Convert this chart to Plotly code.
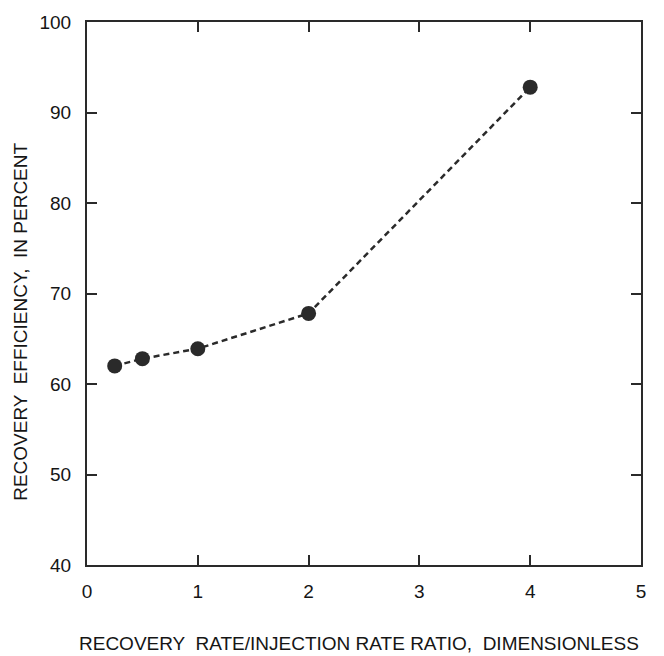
import plotly.graph_objects as go

# Recovery efficiency vs. recovery/injection rate ratio
rate_ratio = [0.25, 0.5, 1, 2, 4]
recovery_pct = [62.0, 62.8, 63.9, 67.8, 92.8]

x_ticks = [0, 1, 2, 3, 4, 5]
y_ticks = [40, 50, 60, 70, 80, 90, 100]

x_title = "RECOVERY  RATE/INJECTION RATE RATIO,  DIMENSIONLESS"
y_title = "RECOVERY  EFFICIENCY,  IN PERCENT"

ink = "#2a2a2a"
text_ink = "#151515"
font = "Liberation Sans, Arial, sans-serif"

fig = go.Figure()
fig.add_trace(go.Scatter(
    x=rate_ratio, y=recovery_pct,
    mode="lines+markers",
    line=dict(color=ink, width=2.5, dash="6px,4px"),
    marker=dict(color=ink, size=15),
    showlegend=False,
))

axis_common = dict(
    showgrid=False, zeroline=False, showline=True, mirror="ticks",
    linecolor=ink, linewidth=2, ticks="inside", ticklen=10, tickwidth=2,
    tickcolor=ink, tickfont=dict(family=font, size=19, color=text_ink),
)

fig.update_xaxes(
    range=[0, 5], tickvals=x_ticks, ticktext=[str(v) for v in x_ticks],
    ticklabelstandoff=8, **axis_common,
)
fig.update_yaxes(
    range=[40, 100], tickvals=y_ticks, ticktext=[str(v) for v in y_ticks],
    ticklabelstandoff=10, **axis_common,
)

# Axis titles placed as annotations
fig.add_annotation(
    text=x_title, xref="paper", yref="paper", x=0.491, y=-0.145,
    showarrow=False, xanchor="center", yanchor="middle",
    font=dict(family=font, size=19, color=text_ink),
)
fig.add_annotation(
    text=y_title, xref="paper", yref="paper", x=-0.119, y=0.448,
    showarrow=False, xanchor="center", yanchor="middle", textangle=-90,
    font=dict(family=font, size=19, color=text_ink),
)

fig.update_layout(
    width=664, height=656,
    margin=dict(l=87, r=23, t=16, b=91),
    paper_bgcolor="white", plot_bgcolor="white",
)

fig.write_html("out.html")
